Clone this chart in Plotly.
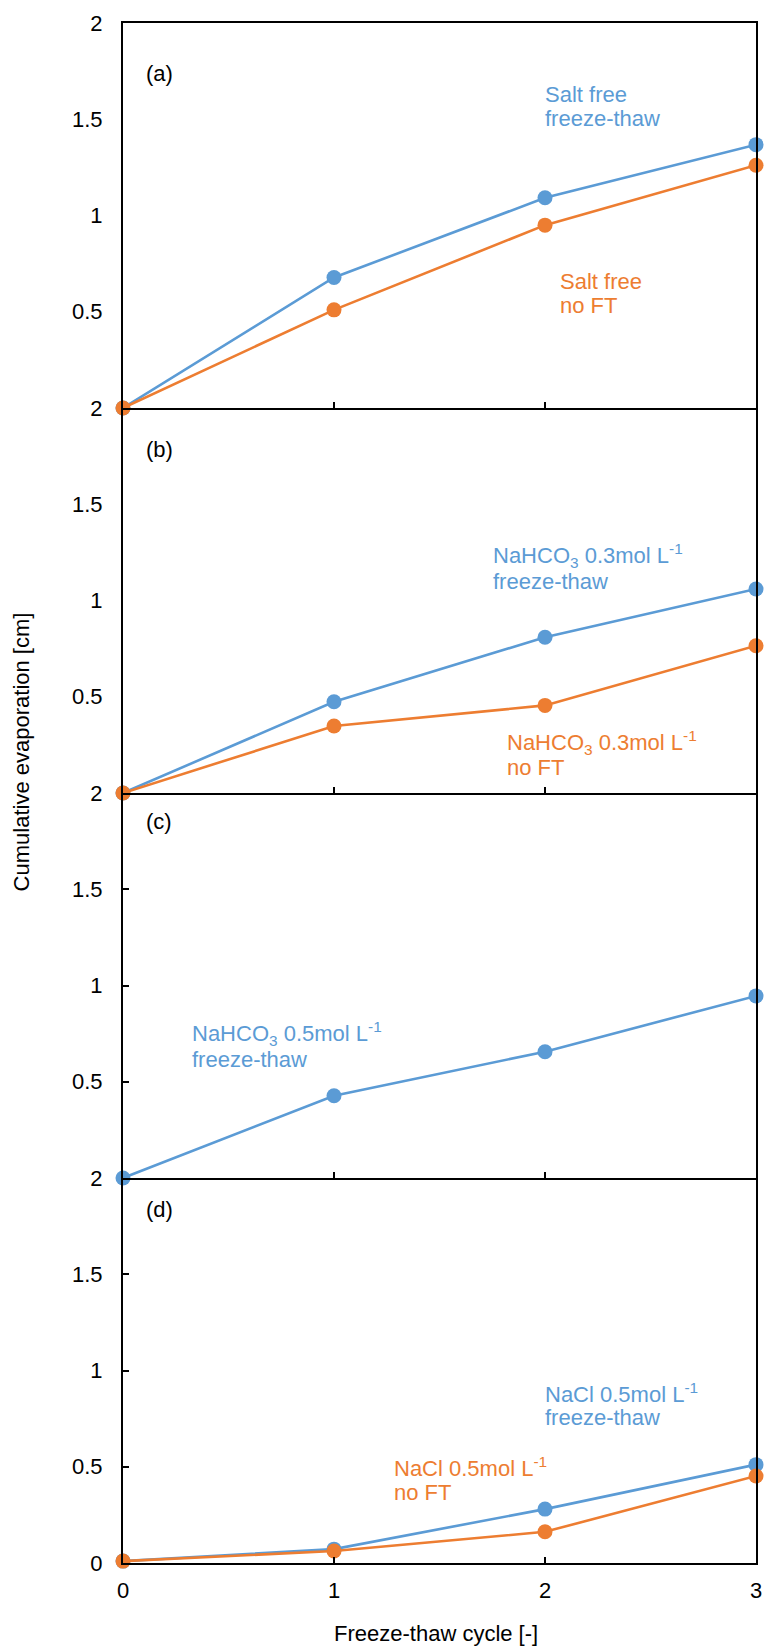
import plotly.graph_objects as go
from plotly.subplots import make_subplots

cycles = [0, 1, 2, 3]

# Panel (a) Salt free
a_ft = [0, 0.678, 1.092, 1.368]
a_noft = [0, 0.510, 0.950, 1.261]
# Panel (b) NaHCO3 0.3 mol/L
b_ft = [0, 0.474, 0.809, 1.060]
b_noft = [0, 0.348, 0.455, 0.765]
# Panel (c) NaHCO3 0.5 mol/L
c_ft = [0, 0.427, 0.656, 0.946]
# Panel (d) NaCl 0.5 mol/L
d_ft = [0.01, 0.072, 0.280, 0.511]
d_noft = [0.01, 0.062, 0.162, 0.452]

panel_labels = ["(a)", "(b)", "(c)", "(d)"]
y_title = "Cumulative evaporation [cm]"
x_title = "Freeze-thaw cycle [-]"

BLUE = "#5B9BD5"
ORANGE = "#ED7D31"
FONT = "Arial, 'Liberation Sans', sans-serif"
FS = 22

fig = make_subplots(rows=4, cols=1, vertical_spacing=0)

def add_series(row, ys, color):
    fig.add_trace(go.Scatter(
        x=cycles, y=ys, mode="lines+markers",
        line=dict(color=color, width=2.6),
        marker=dict(color=color, size=15),
        cliponaxis=False, showlegend=False, hoverinfo="skip"), row=row, col=1)

add_series(1, a_ft, BLUE)
add_series(1, a_noft, ORANGE)
add_series(2, b_ft, BLUE)
add_series(2, b_noft, ORANGE)
add_series(3, c_ft, BLUE)
add_series(4, d_ft, BLUE)
add_series(4, d_noft, ORANGE)

for r in range(1, 5):
    fig.update_xaxes(
        range=[0, 3], tickvals=[0, 1, 2, 3], ticks="inside", ticklen=6,
        tickwidth=1.5, tickcolor="black", showline=True, linecolor="black",
        linewidth=2, mirror=(r == 1), showgrid=False, zeroline=False,
        showticklabels=(r == 4), ticklabelstandoff=7,
        tickfont=dict(family=FONT, size=FS, color="black"), row=r, col=1)
    fig.update_yaxes(
        range=[0, 2],
        tickvals=[0, 0.5, 1, 1.5, 2] if r == 4 else [0.5, 1, 1.5, 2],
        ticktext=["0", "0.5", "1", "1.5", "2"] if r == 4 else ["0.5", "1", "1.5", "2"],
        ticks="inside" if r >= 3 else "", ticklen=6, tickwidth=1.5,
        tickcolor="black", showline=True, linecolor="black", linewidth=2,
        mirror=True, showgrid=False, zeroline=False, ticklabelstandoff=14,
        tickfont=dict(family=FONT, size=FS, color="black"), row=r, col=1)

annotations = []

def txt(xref, yref, x, y, text, color):
    annotations.append(dict(
        xref=xref, yref=yref, x=x, y=y, text=text, showarrow=False,
        xanchor="left", yanchor="middle",
        font=dict(family=FONT, size=FS, color=color)))

# panel labels
txt("x", "y", 0.099, 1.736, panel_labels[0], "black")
txt("x2", "y2", 0.099, 1.784, panel_labels[1], "black")
txt("x3", "y3", 0.099, 1.852, panel_labels[2], "black")
txt("x4", "y4", 0.099, 1.838, panel_labels[3], "black")

# series labels
txt("x", "y", 1.991, 1.627, "Salt free", BLUE)
txt("x", "y", 1.991, 1.503, "freeze-thaw", BLUE)
txt("x", "y", 2.061, 0.659, "Salt free", ORANGE)
txt("x", "y", 2.061, 0.530, "no FT", ORANGE)

txt("x2", "y2", 1.746, 1.235, "NaHCO<sub>3</sub> 0.3mol L<sup>-1</sup>", BLUE)
txt("x2", "y2", 1.746, 1.100, "freeze-thaw", BLUE)
txt("x2", "y2", 1.812, 0.261, "NaHCO<sub>3</sub> 0.3mol L<sup>-1</sup>", ORANGE)
txt("x2", "y2", 1.812, 0.132, "no FT", ORANGE)

txt("x3", "y3", 0.319, 0.749, "NaHCO<sub>3</sub> 0.5mol L<sup>-1</sup>", BLUE)
txt("x3", "y3", 0.319, 0.617, "freeze-thaw", BLUE)

txt("x4", "y4", 1.991, 0.885, "NaCl 0.5mol L<sup>-1</sup>", BLUE)
txt("x4", "y4", 1.991, 0.756, "freeze-thaw", BLUE)
txt("x4", "y4", 1.277, 0.497, "NaCl 0.5mol L<sup>-1</sup>", ORANGE)
txt("x4", "y4", 1.277, 0.368, "no FT", ORANGE)

# axis titles
annotations.append(dict(
    xref="paper", yref="paper", x=-0.1612, y=0.527, text=y_title,
    textangle=-90, showarrow=False, xanchor="center", yanchor="middle",
    font=dict(family=FONT, size=FS, color="black")))
annotations.append(dict(
    xref="paper", yref="paper", x=0.4945, y=-0.046, text=x_title,
    showarrow=False, xanchor="center", yanchor="middle",
    font=dict(family=FONT, size=FS, color="black")))

fig.update_layout(
    width=773, height=1650,
    margin=dict(l=123, r=11, t=18, b=87),
    plot_bgcolor="white", paper_bgcolor="white",
    annotations=annotations,
    font=dict(family=FONT, size=FS, color="black"),
    hovermode=False,
)

fig.write_html(
    "out.html",
    config={"displayModeBar": False},
    post_script="document.body.style.margin='0';document.body.style.padding='0';document.body.style.overflow='hidden';",
)
